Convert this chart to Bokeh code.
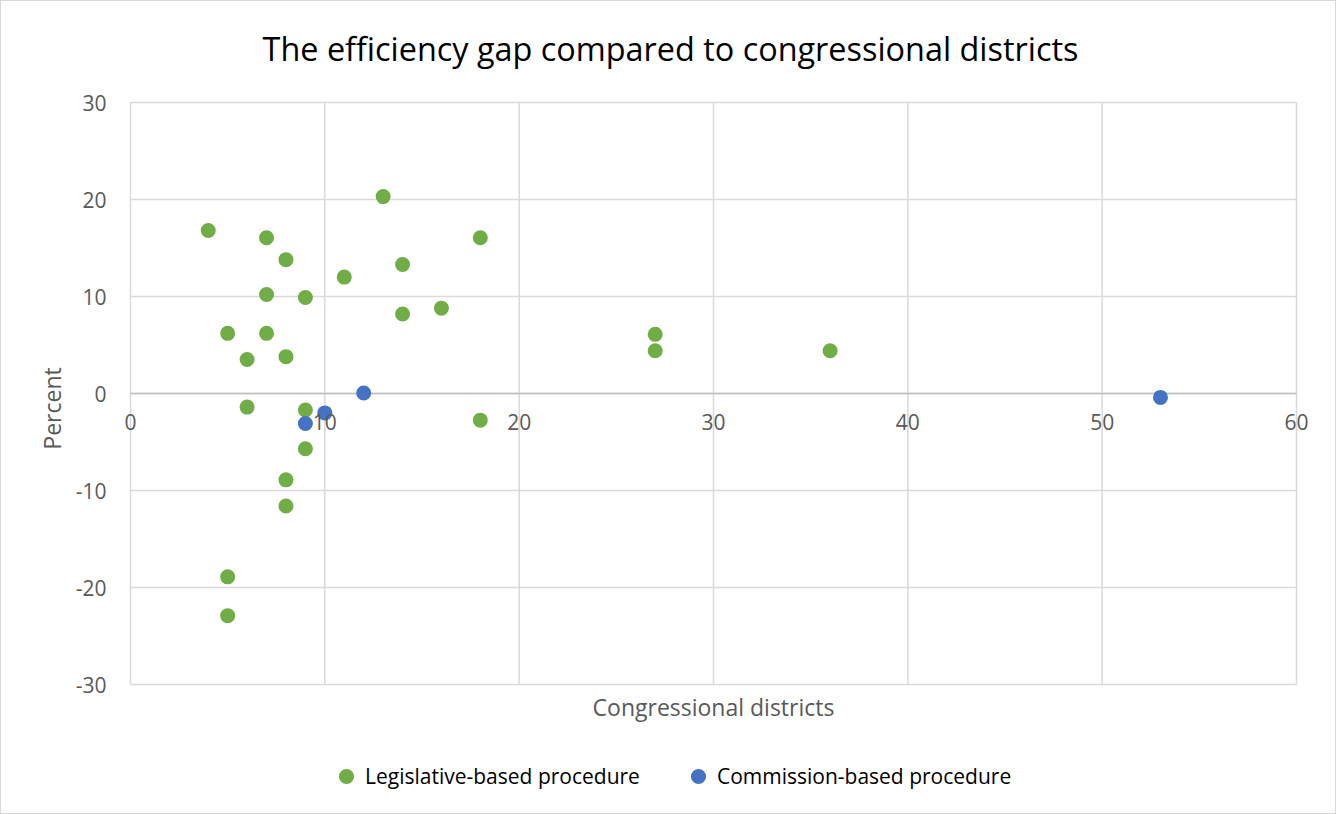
from bokeh.plotting import figure
from bokeh.models import (ColumnDataSource, Legend, LegendItem, Label,
                          LabelSet, FixedTicker, Range1d)
from bokeh.core.properties import value
from bokeh.embed import file_html
from bokeh.resources import INLINE

# Congressional districts per state vs. efficiency gap (%)
legislative_districts = [4, 7, 8, 7, 9, 11, 13, 14, 14, 16, 18, 5, 7, 6, 8, 6,
                         9, 18, 9, 8, 8, 5, 5, 27, 27, 36]
legislative_gap = [16.8, 16.05, 13.8, 10.2, 9.9, 12.0, 20.3, 13.3, 8.2, 8.8,
                   16.05, 6.2, 6.2, 3.5, 3.8, -1.4, -1.7, -2.75, -5.7, -8.9,
                   -11.6, -18.9, -22.9, 6.1, 4.4, 4.4]

commission_districts = [9, 10, 12, 53]
commission_gap = [-3.1, -2.0, 0.05, -0.4]

x_ticks = [0, 10, 20, 30, 40, 50, 60]
y_ticks = [-30, -20, -10, 0, 10, 20, 30]

title_text = "The efficiency gap compared to congressional districts"
x_title = "Congressional districts"
y_title = "Percent"
series_names = ["Legislative-based procedure", "Commission-based procedure"]

FONT = "Open Sans"
GREEN = "#70AD47"
BLUE = "#4472C4"
GRID = "#d9d9d9"
LABEL = "#595959"

W, H = 1336, 814
# plot box (the 0..60 x -30..30 area) in canvas pixels
BOX_L, BOX_R, BOX_T, BOX_B = 129, 1295, 101, 683
FRAME_L, FRAME_R = 113, 1315

x_lo, x_hi = x_ticks[0], x_ticks[-1]
y_lo, y_hi = y_ticks[0], y_ticks[-1]
px_x = (BOX_R - BOX_L) / (x_hi - x_lo)
px_y = (BOX_B - BOX_T) / (y_hi - y_lo)

# The frame reaches the canvas top and bottom so the title, the axis
# title and the legend can sit inside it without being clipped.
x_range = Range1d(x_lo - (BOX_L - FRAME_L) / px_x, x_hi + (FRAME_R - BOX_R) / px_x)
y_range = Range1d(y_lo - (H - BOX_B) / px_y, y_hi + BOX_T / px_y)

p = figure(width=W, height=H, output_backend="svg", toolbar_location=None,
           x_range=x_range, y_range=y_range,
           min_border_left=FRAME_L, min_border_right=W - FRAME_R,
           min_border_top=0, min_border_bottom=0,
           x_axis_location=None)
p.styles = {"border": "1px solid #d9d9d9", "box-sizing": "border-box"}
p.outline_line_color = None
p.background_fill_color = "white"
p.border_fill_color = "white"
p.xgrid.visible = False
p.ygrid.visible = False

# Gridlines limited to the plot box
p.segment(x0=x_lo, x1=x_hi, y0=y_ticks, y1=y_ticks,
          line_color=GRID, line_width=1.5)
p.segment(x0=x_ticks, x1=x_ticks, y0=y_lo, y1=y_hi,
          line_color=GRID, line_width=1.5)
# Horizontal axis line through zero
p.segment(x0=[x_lo], x1=[x_hi], y0=[0], y1=[0],
          line_color="#bfbfbf", line_width=1.5)

# Horizontal tick labels just under the zero line
xt_src = ColumnDataSource(dict(x=x_ticks, y=[0] * len(x_ticks),
                               text=[str(t) for t in x_ticks]))
p.add_layout(LabelSet(x="x", y="y", text="text", source=xt_src,
                      y_offset=-28, text_align="center",
                      text_baseline="middle", text_font=value(FONT),
                      text_font_size=value("21px"), text_color=LABEL))

# Vertical axis
yaxis = p.yaxis[0]
yaxis.ticker = FixedTicker(ticks=y_ticks)
yaxis.bounds = (y_lo, y_hi)
yaxis.major_label_overrides = {t: str(t) for t in y_ticks}
yaxis.axis_line_color = None
yaxis.major_tick_line_color = None
yaxis.minor_tick_line_color = None
yaxis.major_label_text_font = FONT
yaxis.major_label_text_font_size = "21px"
yaxis.major_label_text_color = LABEL
yaxis.major_label_standoff = 2
yaxis.axis_label = y_title
yaxis.axis_label_text_font = FONT
yaxis.axis_label_text_font_size = "23px"
yaxis.axis_label_text_font_style = "normal"
yaxis.axis_label_text_color = LABEL
yaxis.axis_label_standoff = 5

# Chart title and horizontal axis title
p.add_layout(Label(x=W / 2, y=45, x_units="canvas", y_units="canvas",
                   text=title_text, text_align="center",
                   text_baseline="middle", text_font=FONT,
                   text_font_size="32.4px", text_color="#000000"))
p.add_layout(Label(x=(x_lo + x_hi) / 2, y=704, y_units="canvas",
                   text=x_title, text_align="center",
                   text_baseline="middle", text_font=FONT,
                   text_font_size="23px", text_color=LABEL))

leg_src = ColumnDataSource(dict(x=legislative_districts, y=legislative_gap))
com_src = ColumnDataSource(dict(x=commission_districts, y=commission_gap))
r_leg = p.scatter("x", "y", source=leg_src, size=15, marker="circle",
                  fill_color=GREEN, line_color=None)
r_com = p.scatter("x", "y", source=com_src, size=15, marker="circle",
                  fill_color=BLUE, line_color=None)

# Legend swatches are drawn at 0.4 of the glyph box, so a 38 px box
# gives the same 15 px dot as the scatter.
legend = Legend(items=[
    LegendItem(label=series_names[0], renderers=[r_leg]),
    LegendItem(label=series_names[1], renderers=[r_com]),
], orientation="horizontal", location=(326 - FRAME_L, 20))
legend.label_text_font = FONT
legend.label_text_font_size = "21px"
legend.label_text_color = "#000000"
legend.border_line_color = None
legend.background_fill_alpha = 0
legend.padding = 0
legend.margin = 0
legend.spacing = 39
legend.glyph_width = 38
legend.glyph_height = 38
legend.label_standoff = 0
p.add_layout(legend, "center")

open("out.html", "w").write(file_html(p, INLINE))
